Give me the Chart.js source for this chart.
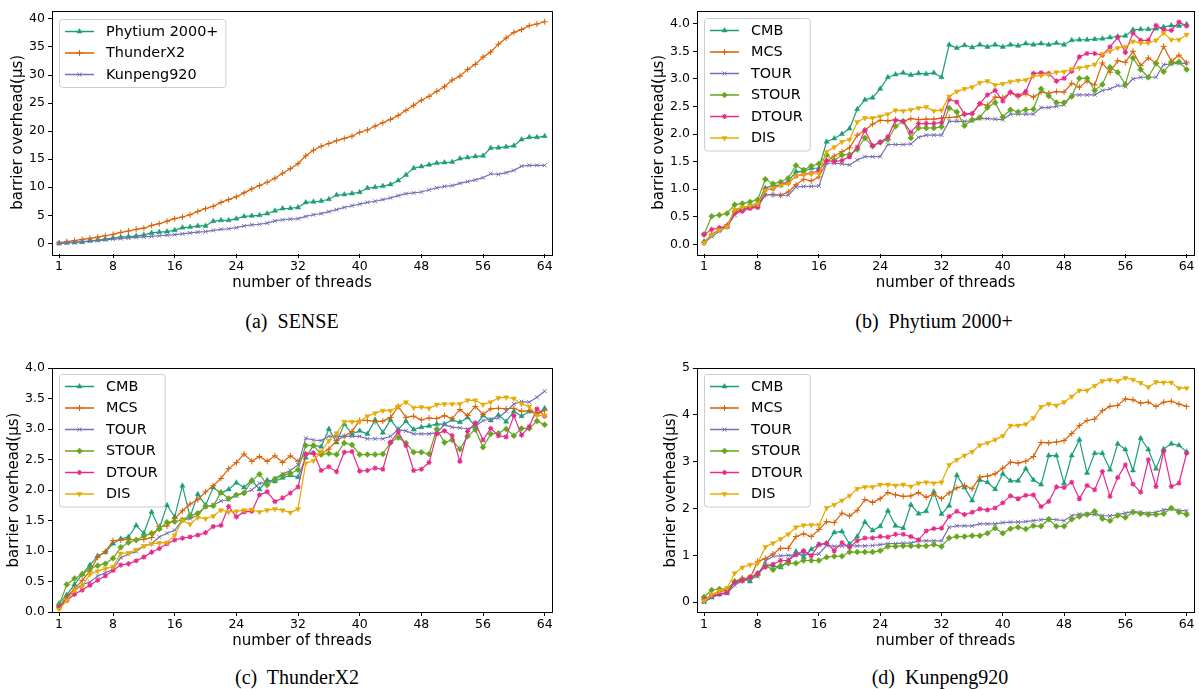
<!DOCTYPE html>
<html>
<head>
<meta charset="utf-8">
<script src="https://cdn.jsdelivr.net/npm/chart.js@4/dist/chart.umd.min.js"></script>
<style>
  body { margin: 0; background: #fff; width: 1199px; height: 689px; position: relative; overflow: hidden; }
  canvas { position: absolute; }
  .cap { position: absolute; font-family: "Liberation Serif", "Times New Roman", serif; font-size: 20px;
         line-height: 20px; white-space: pre; transform: translateX(-50%); color: #000; }
</style>
</head>
<body>
<canvas id="chartSense" width="560" height="296" style="left:0;top:0"></canvas>
<canvas id="chartPhytium" width="559" height="296" style="left:640px;top:0"></canvas>
<canvas id="chartThunder" width="560" height="300" style="left:0;top:355px"></canvas>
<canvas id="chartKunpeng" width="559" height="300" style="left:640px;top:355px"></canvas>
<div class="cap" style="left:292px;top:311px">(a)  SENSE</div>
<div class="cap" style="left:934px;top:311px">(b)  Phytium 2000+</div>
<div class="cap" style="left:297px;top:667px">(c)  ThunderX2</div>
<div class="cap" style="left:940px;top:667px">(d)  Kunpeng920</div>
<script>
// thread counts on the x axis
const threads = [1,2,3,4,5,6,7,8,9,10,11,12,13,14,15,16,17,18,19,20,21,22,23,24,25,26,27,28,29,30,31,32,
  33,34,35,36,37,38,39,40,41,42,43,44,45,46,47,48,49,50,51,52,53,54,55,56,57,58,59,60,61,62,63,64];
const xTicks = [1, 8, 16, 24, 32, 40, 48, 56, 64];
const yTicksSense = [0, 5, 10, 15, 20, 25, 30, 35, 40];
const yTicksHalf = [0, 0.5, 1, 1.5, 2, 2.5, 3, 3.5, 4];
const yTicksKunpeng = [0, 1, 2, 3, 4, 5];

// (a) SENSE on the three machines
const sensePhytium = [0.0,0.1,0.15,0.2,0.45,0.6,0.75,0.95,1.1,1.2,1.3,1.5,1.85,2.0,2.1,2.35,
  2.8,2.9,3.1,3.1,3.95,4.1,4.1,4.4,4.8,4.9,5.0,5.3,5.8,6.2,6.25,6.4,
  7.3,7.4,7.55,7.85,8.6,8.7,8.9,9.1,9.85,10.0,10.2,10.5,11.2,12.2,13.4,13.7,
  14.0,14.3,14.4,14.5,15.1,15.3,15.5,15.6,17.0,17.05,17.2,17.4,18.5,18.9,18.9,19.1];
const senseThunderX2 = [0.1,0.3,0.5,0.7,0.9,1.1,1.35,1.6,1.95,2.2,2.5,2.7,3.2,3.5,3.95,4.4,
  4.7,5.1,5.7,6.2,6.6,7.3,7.8,8.3,9.0,9.7,10.3,10.9,11.6,12.5,13.3,14.2,
  15.6,16.6,17.3,17.8,18.3,18.7,19.1,19.8,20.2,20.9,21.5,22.1,22.8,23.7,24.6,25.5,
  26.2,27.1,27.9,29.1,29.8,31.0,31.9,33.2,34.1,35.5,36.6,37.6,38.1,38.8,39.1,39.5];
const senseKunpeng = [0,0.1,0.2,0.3,0.4,0.5,0.6,0.75,0.85,0.95,1.05,1.15,1.25,1.35,1.45,1.55,
  1.7,1.85,2.0,2.1,2.3,2.5,2.6,2.8,3.1,3.3,3.4,3.6,4.0,4.2,4.3,4.4,
  4.8,5.1,5.3,5.65,6.0,6.4,6.7,7.0,7.3,7.5,7.8,8.1,8.5,8.85,9.0,9.15,
  9.55,9.9,10.15,10.3,10.7,11.0,11.3,11.7,12.4,12.3,12.6,13.0,13.75,13.9,13.9,13.9];

// (b) Phytium 2000+
const phyCMB = [0.05,0.17,0.26,0.32,0.62,0.66,0.7,0.75,1.02,1.07,1.07,1.15,1.32,1.32,1.38,1.38,
  1.86,1.92,2.0,2.1,2.45,2.62,2.66,2.82,3.03,3.08,3.11,3.07,3.1,3.09,3.11,3.03,
  3.62,3.56,3.61,3.57,3.62,3.58,3.62,3.58,3.62,3.6,3.64,3.62,3.64,3.62,3.65,3.62,
  3.7,3.71,3.71,3.72,3.73,3.75,3.77,3.78,3.89,3.9,3.9,3.91,3.94,3.97,3.96,3.99];
const phyMCS = [0.03,0.18,0.27,0.35,0.59,0.63,0.68,0.7,0.9,0.9,0.89,0.95,1.08,1.18,1.15,1.22,
  1.5,1.6,1.68,1.75,1.98,2.07,2.18,2.25,2.24,2.26,2.23,2.28,2.26,2.27,2.27,2.29,
  2.3,2.31,2.36,2.37,2.55,2.52,2.67,2.66,2.75,2.68,2.73,2.67,2.76,2.74,2.77,2.76,
  2.92,2.85,2.96,2.89,3.29,3.12,3.33,3.3,3.5,3.24,3.38,3.29,3.59,3.32,3.43,3.29];
const phyTOUR = [0.02,0.14,0.24,0.32,0.53,0.63,0.67,0.67,0.9,0.9,0.89,0.89,1.04,1.05,1.05,1.06,
  1.47,1.47,1.46,1.44,1.53,1.59,1.59,1.59,1.81,1.81,1.81,1.82,1.94,1.98,1.98,1.98,
  2.23,2.23,2.23,2.24,2.28,2.28,2.27,2.26,2.36,2.36,2.36,2.36,2.48,2.48,2.5,2.53,
  2.71,2.71,2.71,2.71,2.79,2.82,2.88,2.86,3.0,3.03,3.03,3.03,3.26,3.27,3.28,3.28];
const phySTOUR = [0.18,0.51,0.53,0.56,0.72,0.74,0.77,0.81,1.18,1.1,1.13,1.2,1.43,1.35,1.42,1.46,
  1.62,1.52,1.62,1.63,1.72,1.93,1.78,1.85,1.9,2.14,2.23,1.93,2.11,2.11,2.11,2.13,
  2.47,2.4,2.15,2.26,2.3,2.48,2.57,2.31,2.44,2.4,2.44,2.45,2.82,2.69,2.57,2.57,
  2.68,3.01,3.01,2.79,2.9,3.21,3.12,2.9,3.38,3.17,3.03,3.28,3.13,3.29,3.31,3.17];
const phyDTOUR = [0.18,0.27,0.3,0.33,0.57,0.6,0.65,0.67,0.99,1.01,1.08,1.11,1.24,1.27,1.29,1.34,
  1.52,1.5,1.52,1.59,1.76,2.07,1.79,1.85,1.95,2.25,2.23,2.03,2.19,2.19,2.19,2.21,
  2.63,2.58,2.36,2.37,2.55,2.71,2.79,2.6,2.76,2.7,2.77,3.1,3.11,3.1,2.96,3.01,
  3.14,3.4,3.46,3.46,3.43,3.58,3.75,3.48,3.83,3.7,3.7,3.97,3.89,3.88,4.03,3.96];
const phyDIS = [0.03,0.17,0.26,0.32,0.63,0.67,0.7,0.73,0.98,1.02,1.07,1.1,1.24,1.27,1.28,1.28,
  1.68,1.76,1.86,1.9,2.22,2.29,2.29,2.32,2.36,2.43,2.42,2.44,2.47,2.49,2.42,2.43,
  2.68,2.77,2.82,2.85,2.93,2.96,2.89,2.91,2.95,2.97,2.98,3.05,3.06,3.08,3.12,3.13,
  3.18,3.2,3.22,3.26,3.45,3.5,3.56,3.58,3.68,3.65,3.65,3.7,3.83,3.71,3.71,3.8];

// (c) ThunderX2
const txCMB = [0.14,0.28,0.45,0.62,0.77,0.92,0.98,1.12,1.2,1.23,1.42,1.29,1.64,1.37,1.75,1.56,
  2.07,1.56,1.93,1.75,2.04,1.95,2.01,2.12,2.04,2.16,2.01,2.16,2.14,2.2,2.24,2.21,
  2.53,2.73,2.71,3.0,2.78,3.08,2.92,2.97,2.92,3.15,2.94,3.15,2.99,3.13,2.99,3.03,
  3.05,3.08,3.08,3.15,3.11,3.19,3.05,3.22,3.14,3.23,3.12,3.29,3.21,3.29,3.24,3.34];
const txMCS = [0.08,0.25,0.38,0.52,0.67,0.9,0.99,1.17,1.18,1.19,1.18,1.19,1.22,1.4,1.41,1.53,
  1.66,1.77,1.84,1.97,2.07,2.19,2.35,2.45,2.59,2.47,2.55,2.47,2.56,2.45,2.56,2.47,
  2.59,2.59,2.59,2.67,2.81,2.88,2.96,3.14,3.14,3.12,3.13,3.19,3.37,3.19,3.21,3.15,
  3.18,3.17,3.22,3.17,3.32,3.22,3.37,3.24,3.33,3.34,3.33,3.34,3.29,3.3,3.26,3.3];
const txTOUR = [0.07,0.23,0.36,0.45,0.49,0.59,0.64,0.7,0.89,0.95,0.99,1.08,1.12,1.23,1.29,1.34,
  1.51,1.53,1.59,1.73,1.75,1.82,1.84,1.91,1.95,2.0,2.11,2.12,2.19,2.26,2.32,2.41,
  2.85,2.82,2.81,2.88,2.88,2.88,2.88,2.88,2.84,2.84,2.84,2.88,2.99,2.97,2.92,2.92,
  2.92,2.94,3.07,3.03,3.02,3.0,3.04,3.14,3.16,3.18,3.29,3.41,3.45,3.44,3.52,3.62];
const txSTOUR = [0.11,0.45,0.55,0.62,0.71,0.76,0.79,0.88,1.06,1.14,1.18,1.24,1.29,1.36,1.47,1.48,
  1.51,1.58,1.62,1.73,1.74,1.96,1.86,1.92,1.95,2.15,2.26,2.08,2.18,2.24,2.27,2.33,
  2.73,2.73,2.58,2.6,2.58,2.77,2.74,2.58,2.58,2.58,2.59,2.78,2.86,2.77,2.62,2.62,
  2.59,3.0,2.78,2.82,2.67,2.88,2.99,2.7,2.92,2.93,3.0,2.89,3.01,3.01,3.13,3.07];
const txDTOUR = [0.08,0.19,0.29,0.36,0.44,0.52,0.59,0.68,0.77,0.79,0.84,0.9,0.98,1.04,1.12,1.18,
  1.21,1.23,1.26,1.3,1.4,1.42,1.73,1.56,1.64,1.65,1.92,1.97,1.81,1.87,1.95,2.05,
  2.59,2.61,2.32,2.38,2.3,2.62,2.63,2.31,2.32,2.36,2.34,2.78,2.95,2.73,2.32,2.34,
  2.45,2.92,2.97,2.89,2.47,2.96,3.1,2.82,3.01,2.89,2.87,3.22,2.9,3.04,3.33,3.21];
const txDIS = [0.04,0.19,0.36,0.42,0.62,0.67,0.71,0.74,0.96,0.97,1.02,1.08,1.12,1.13,1.14,1.26,
  1.5,1.44,1.55,1.53,1.57,1.67,1.64,1.65,1.67,1.68,1.64,1.67,1.69,1.67,1.63,1.69,
  2.44,2.48,2.63,2.81,2.93,3.12,3.12,3.12,3.21,3.26,3.3,3.3,3.37,3.44,3.35,3.36,
  3.34,3.4,3.41,3.41,3.41,3.47,3.47,3.4,3.44,3.51,3.52,3.5,3.41,3.37,3.22,3.22];

// (d) Kunpeng920
const kpCMB = [0.01,0.1,0.17,0.19,0.44,0.5,0.44,0.62,0.8,0.78,0.74,0.89,1.08,0.96,1.13,1.23,
  1.25,1.49,1.51,1.24,1.4,1.71,1.53,1.62,1.95,1.63,1.58,2.08,1.89,1.94,2.36,1.88,
  2.06,2.71,2.45,2.17,2.61,2.56,2.41,2.74,2.59,2.59,2.85,2.61,2.51,3.13,3.13,2.54,
  3.13,3.47,2.76,3.18,3.18,2.83,3.38,3.26,2.81,3.5,3.26,2.85,3.27,3.38,3.35,3.21];
const kpMCS = [0.05,0.16,0.23,0.25,0.44,0.51,0.51,0.87,0.93,1.03,1.15,1.15,1.4,1.46,1.4,1.55,
  1.72,1.7,1.9,1.84,1.96,2.19,2.13,2.21,2.34,2.29,2.26,2.27,2.34,2.24,2.31,2.21,
  2.33,2.44,2.49,2.42,2.67,2.69,2.74,2.86,2.99,2.97,3.01,3.11,3.41,3.4,3.42,3.45,
  3.6,3.77,3.88,3.91,4.09,4.18,4.2,4.34,4.32,4.25,4.27,4.18,4.27,4.29,4.23,4.18];
const kpTOUR = [0.0,0.1,0.17,0.19,0.36,0.46,0.51,0.55,0.88,0.98,0.99,1.0,1.01,1.03,1.01,1.03,
  1.21,1.19,1.2,1.2,1.2,1.2,1.21,1.23,1.25,1.25,1.26,1.26,1.31,1.31,1.31,1.31,
  1.6,1.63,1.63,1.63,1.67,1.67,1.67,1.7,1.71,1.71,1.72,1.74,1.76,1.77,1.76,1.74,
  1.85,1.88,1.88,1.87,1.85,1.84,1.87,1.9,1.94,1.92,1.9,1.92,1.97,1.99,1.96,1.95];
const kpSTOUR = [0.11,0.26,0.28,0.28,0.44,0.46,0.53,0.58,0.78,0.69,0.78,0.83,0.83,0.89,0.89,0.89,
  0.96,0.98,0.98,1.07,1.07,1.07,1.07,1.1,1.19,1.19,1.2,1.2,1.2,1.2,1.23,1.19,
  1.37,1.4,1.4,1.42,1.42,1.47,1.58,1.47,1.57,1.6,1.56,1.63,1.62,1.77,1.62,1.62,
  1.77,1.83,1.87,1.94,1.78,1.74,1.85,1.81,1.92,1.89,1.87,1.87,1.89,2.01,1.92,1.87];
const kpDTOUR = [0.06,0.14,0.17,0.21,0.42,0.46,0.53,0.61,0.75,0.81,0.89,0.89,1.01,1.1,0.99,1.23,
  1.26,1.1,1.27,1.17,1.31,1.37,1.37,1.4,1.39,1.45,1.45,1.4,1.33,1.52,1.57,1.58,
  1.83,1.94,1.87,1.92,1.99,1.97,2.01,2.12,2.27,2.21,2.28,2.29,2.04,2.15,2.46,2.45,
  2.56,2.21,2.49,2.4,2.79,2.26,2.66,2.93,2.52,2.35,3.04,2.47,3.22,2.47,2.54,3.18];
const kpDIS = [0.03,0.16,0.24,0.3,0.62,0.74,0.8,0.83,1.18,1.26,1.35,1.45,1.6,1.64,1.65,1.65,
  2.01,2.08,2.17,2.27,2.42,2.46,2.46,2.51,2.51,2.49,2.51,2.47,2.54,2.56,2.54,2.56,
  2.93,3.04,3.13,3.21,3.35,3.4,3.47,3.55,3.77,3.77,3.8,3.93,4.17,4.23,4.2,4.27,
  4.39,4.52,4.52,4.62,4.72,4.75,4.72,4.79,4.75,4.68,4.59,4.7,4.69,4.69,4.57,4.57];

// Dark2 colours and matplotlib-like markers
const STYLE = {
  s1: { color: '#1b9e77', pointStyle: 'triangle', rotation: 0, radius: 3, bw: 0.5 },
  s2: { color: '#d95f02', pointStyle: 'cross', rotation: 0, radius: 3, bw: 1 },
  s3: { color: '#7570b3', pointStyle: 'crossRot', rotation: 0, radius: 2.8, bw: 1 },
  s4: { color: '#66a61e', pointStyle: 'rectRot', rotation: 0, radius: 3, bw: 0.5 },
  s5: { color: '#e7298a', pointStyle: 'star', rotation: 0, radius: 2.6, bw: 1.1 },
  s6: { color: '#e6ab02', pointStyle: 'triangle', rotation: 180, radius: 3, bw: 0.5 }
};

const FONT = '"DejaVu Sans", Verdana, sans-serif';
Chart.defaults.color = '#000';
Chart.defaults.font.family = FONT;

// axes frame + matplotlib style legend in the upper left corner
const frameLegend = {
  id: 'frameLegend',
  afterDraw(chart, args, opts) {
    const { ctx, chartArea: a } = chart;
    ctx.save();
    ctx.strokeStyle = '#000';
    ctx.lineWidth = 1;
    ctx.strokeRect(Math.round(a.left) + 0.5, Math.round(a.top) + 0.5,
      Math.round(a.right - a.left), Math.round(a.bottom - a.top));

    const ds = chart.data.datasets;
    ctx.font = '14.4px ' + FONT;
    let tw = 0;
    ds.forEach(d => { tw = Math.max(tw, ctx.measureText(d.label).width); });
    const bx = Math.round(a.left + 7), by = Math.round(a.top + opts.top);
    const bw = 47 + tw + 7, bh = 25 + (ds.length - 1) * 21.5;
    ctx.beginPath();
    if (ctx.roundRect) ctx.roundRect(bx + 0.5, by + 0.5, bw, bh, 3);
    else ctx.rect(bx + 0.5, by + 0.5, bw, bh);
    ctx.fillStyle = 'rgba(255,255,255,0.8)';
    ctx.fill();
    ctx.strokeStyle = '#cccccc';
    ctx.stroke();
    ds.forEach((d, i) => {
      const y = by + 12.5 + i * 21.5;
      ctx.strokeStyle = d.borderColor;
      ctx.lineWidth = 1.5;
      ctx.beginPath();
      ctx.moveTo(bx + 6, y);
      ctx.lineTo(bx + 35, y);
      ctx.stroke();
      ctx.fillStyle = d.borderColor;
      ctx.lineWidth = d.pointBorderWidth;
      Chart.helpers.drawPoint(ctx, {
        pointStyle: d.pointStyle, rotation: d.pointRotation,
        radius: d.pointRadius, borderWidth: d.pointBorderWidth
      }, bx + 20.5, y);
      ctx.fillStyle = '#000';
      ctx.textBaseline = 'middle';
      ctx.textAlign = 'left';
      ctx.fillText(d.label, bx + 47, y + 0.5);
    });
    ctx.restore();
  }
};

function makeChart(id, lay, yMin, yMax, yTicks, digits, series) {
  const n = series.length;
  const datasets = series.map((s, i) => {
    const st = STYLE[s.key];
    return {
      label: s.label,
      data: s.data,
      borderColor: st.color,
      backgroundColor: st.color,
      borderWidth: 1.2,
      pointStyle: st.pointStyle,
      pointRotation: st.rotation,
      pointRadius: st.radius,
      pointBorderWidth: st.bw,
      pointBackgroundColor: st.color,
      pointBorderColor: st.color,
      tension: 0,
      fill: false,
      order: n - i
    };
  });
  const tickFont = { size: 12.5, family: FONT };
  const titleFont = { size: 15, family: FONT };
  const grid = { drawOnChartArea: false, drawTicks: true, tickLength: 4, tickWidth: 1, tickColor: '#000' };

  new Chart(document.getElementById(id), {
    type: 'line',
    data: { labels: threads, datasets: datasets },
    options: {
      responsive: false,
      animation: false,
      events: [],
      layout: { padding: { left: 0, top: lay.pt, right: lay.pr, bottom: 0 } },
      plugins: {
        legend: { display: false },
        tooltip: { enabled: false },
        frameLegend: { top: lay.legTop }
      },
      scales: {
        x: {
          type: 'linear',
          min: 0.08,
          max: 64.95,
          afterBuildTicks: s => { s.ticks = xTicks.map(v => ({ value: v })); },
          afterFit: s => { s.height = lay.xh; },
          grid: grid,
          border: { display: false },
          ticks: { font: tickFont, padding: 1, maxRotation: 0, autoSkip: false, color: '#000' },
          title: { display: true, text: 'number of threads', font: titleFont, color: '#000',
                   padding: { top: 0, bottom: lay.xtp } }
        },
        y: {
          min: yMin,
          max: yMax,
          afterBuildTicks: s => { s.ticks = yTicks.map(v => ({ value: v })); },
          afterFit: s => { s.width = lay.yw; },
          grid: grid,
          border: { display: false },
          ticks: { font: tickFont, padding: 3, color: '#000', autoSkip: false,
                   callback: v => Number(v).toFixed(digits) },
          title: { display: true, text: 'barrier overhead(\u03bcs)', font: titleFont, color: '#000',
                   padding: { top: lay.ytp, bottom: 0 } }
        }
      }
    },
    plugins: [frameLegend]
  });
}

makeChart('chartSense', { pt: 9, pr: 8, xh: 42, yw: 52, xtp: 4, ytp: 9, legTop: 8 },
  -1.9, 41.5, yTicksSense, 0, [
    { key: 's1', label: 'Phytium 2000+', data: sensePhytium },
    { key: 's2', label: 'ThunderX2', data: senseThunderX2 },
    { key: 's3', label: 'Kunpeng920', data: senseKunpeng }
  ]);

makeChart('chartPhytium', { pt: 9, pr: 3, xh: 42, yw: 57, xtp: 4, ytp: 10, legTop: 7 },
  -0.175, 4.24, yTicksHalf, 1, [
    { key: 's1', label: 'CMB', data: phyCMB },
    { key: 's2', label: 'MCS', data: phyMCS },
    { key: 's3', label: 'TOUR', data: phyTOUR },
    { key: 's4', label: 'STOUR', data: phySTOUR },
    { key: 's5', label: 'DTOUR', data: phyDTOUR },
    { key: 's6', label: 'DIS', data: phyDIS }
  ]);

makeChart('chartThunder', { pt: 13, pr: 8, xh: 43, yw: 52, xtp: 5, ytp: 5.5, legTop: 6 },
  0, 4.0, yTicksHalf, 1, [
    { key: 's1', label: 'CMB', data: txCMB },
    { key: 's2', label: 'MCS', data: txMCS },
    { key: 's3', label: 'TOUR', data: txTOUR },
    { key: 's4', label: 'STOUR', data: txSTOUR },
    { key: 's5', label: 'DTOUR', data: txDTOUR },
    { key: 's6', label: 'DIS', data: txDIS }
  ]);

makeChart('chartKunpeng', { pt: 13, pr: 3, xh: 43, yw: 57, xtp: 5, ytp: 22, legTop: 6 },
  -0.21, 5, yTicksKunpeng, 0, [
    { key: 's1', label: 'CMB', data: kpCMB },
    { key: 's2', label: 'MCS', data: kpMCS },
    { key: 's3', label: 'TOUR', data: kpTOUR },
    { key: 's4', label: 'STOUR', data: kpSTOUR },
    { key: 's5', label: 'DTOUR', data: kpDTOUR },
    { key: 's6', label: 'DIS', data: kpDIS }
  ]);
</script>
</body>
</html>
